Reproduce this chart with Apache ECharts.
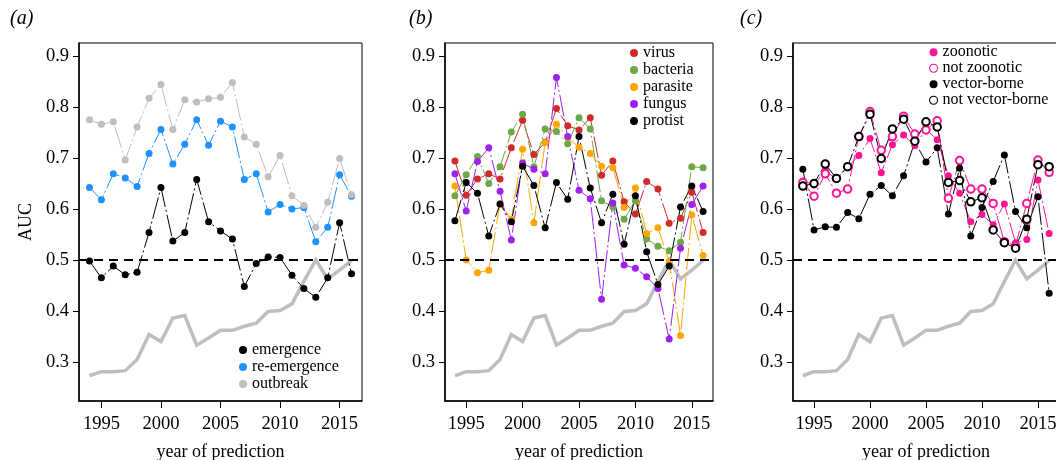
<!DOCTYPE html>
<html>
<head>
<meta charset="utf-8">
<script src="https://cdn.jsdelivr.net/npm/echarts@6/dist/echarts.min.js"></script>
<style>
html,body{margin:0;padding:0;background:#fff;}
#chart{width:1056px;height:460px;}
</style>
</head>
<body>
<div id="chart"></div>
<script>
// ---------- data ----------
const years = [1994,1995,1996,1997,1998,1999,2000,2001,2002,2003,2004,2005,2006,2007,2008,2009,2010,2011,2012,2013,2014,2015,2016];
const xTicks = [1995,2000,2005,2010,2015];
const yTicks = [0.3,0.4,0.5,0.6,0.7,0.8,0.9];

// grey thick reference line (same in each panel)
const greyRef = [0.273,0.281,0.281,0.283,0.305,0.354,0.340,0.386,0.391,0.333,0.347,0.362,0.362,0.370,0.376,0.399,0.401,0.414,0.458,0.500,0.463,0.480,0.499];

// panel (a)
const emergence   = [0.498,0.465,0.488,0.471,0.476,0.554,0.642,0.537,0.554,0.658,0.575,0.557,0.541,0.448,0.493,0.506,0.505,0.470,0.444,0.427,0.465,0.573,0.473];
const reEmergence = [0.642,0.618,0.669,0.661,0.644,0.709,0.756,0.688,0.727,0.775,0.725,0.772,0.761,0.658,0.669,0.594,0.609,0.600,0.603,0.536,0.564,0.667,0.625];
const outbreak    = [0.775,0.766,0.771,0.696,0.761,0.817,0.844,0.756,0.814,0.810,0.816,0.819,0.848,0.741,0.727,0.663,0.705,0.626,0.607,0.564,0.613,0.699,0.628];

// panel (b)
const virus    = [0.694,0.627,0.659,0.669,0.659,0.720,0.774,0.707,0.731,0.797,0.763,0.755,0.779,0.666,0.694,0.614,0.590,0.654,0.639,0.572,0.582,0.633,0.554];
const bacteria = [0.626,0.667,0.703,0.650,0.683,0.751,0.786,0.683,0.757,0.752,0.728,0.779,0.757,0.616,0.604,0.580,0.616,0.541,0.527,0.518,0.535,0.683,0.681];
const parasite = [0.645,0.500,0.475,0.480,0.610,0.580,0.717,0.573,0.730,0.766,0.740,0.721,0.709,0.684,0.681,0.603,0.641,0.552,0.563,0.497,0.352,0.588,0.509];
const fungus   = [0.669,0.596,0.693,0.720,0.635,0.539,0.690,0.678,0.669,0.858,0.742,0.637,0.620,0.423,0.612,0.490,0.484,0.467,0.444,0.345,0.523,0.609,0.645];
const protist  = [0.577,0.652,0.631,0.547,0.610,0.575,0.684,0.646,0.563,0.652,0.619,0.742,0.641,0.573,0.629,0.531,0.626,0.516,0.452,0.488,0.604,0.645,0.595];

// panel (c)
const zoonotic       = [0.655,0.647,0.676,0.658,0.682,0.705,0.738,0.671,0.726,0.745,0.724,0.756,0.736,0.665,0.631,0.575,0.589,0.569,0.610,0.534,0.540,0.657,0.552];
const notZoonotic    = [0.652,0.625,0.669,0.631,0.639,0.742,0.791,0.715,0.742,0.782,0.747,0.755,0.773,0.621,0.695,0.639,0.639,0.611,0.536,0.528,0.611,0.696,0.672];
const vectorBorne    = [0.678,0.559,0.565,0.564,0.593,0.581,0.629,0.646,0.626,0.665,0.732,0.692,0.720,0.590,0.680,0.547,0.603,0.654,0.706,0.595,0.563,0.624,0.435];
const notVectorBorne = [0.645,0.650,0.688,0.660,0.683,0.742,0.786,0.699,0.757,0.776,0.733,0.771,0.761,0.652,0.656,0.614,0.622,0.559,0.534,0.523,0.580,0.687,0.683];

const panelLabels = ['(a)','(b)','(c)'];
const yTitle = 'AUC';
const xTitle = 'year of prediction';

// ---------- styling ----------
const FONT = '"Liberation Serif","DejaVu Serif",serif';
const PINK = '#FF1493';
const panelsA = [
  {name:'emergence', data:emergence, color:'#000000', open:false},
  {name:'re-emergence', data:reEmergence, color:'#1E90FF', open:false},
  {name:'outbreak', data:outbreak, color:'#BEBEBE', open:false}
];
const panelsB = [
  {name:'virus', data:virus, color:'#D12A2A', open:false},
  {name:'bacteria', data:bacteria, color:'#6BA846', open:false},
  {name:'parasite', data:parasite, color:'#FFA500', open:false},
  {name:'fungus', data:fungus, color:'#A020F0', open:false},
  {name:'protist', data:protist, color:'#000000', open:false}
];
const panelsC = [
  {name:'zoonotic', data:zoonotic, color:PINK, open:false},
  {name:'not zoonotic', data:notZoonotic, color:PINK, open:true},
  {name:'vector-borne', data:vectorBorne, color:'#000000', open:false},
  {name:'not vector-borne', data:notVectorBorne, color:'#000000', open:true}
];
const groups = [panelsA, panelsB, panelsC];

const grids = [
  {left:79, top:43, width:283, height:358},
  {left:445, top:43, width:268, height:358},
  {left:793, top:43, width:266, height:358}
];
const legendPos = [
  {left:239, top:341.5, lh:17},
  {left:630, top:44.5, lh:17},
  {left:929, top:44.2, lh:15.7}
];

const xAxes = [], yAxes = [], series = [], legends = [], titles = [];
grids.forEach((g, i) => {
  g.show = true; g.borderColor = '#000'; g.borderWidth = 1; g.containLabel = false;
  g.outerBoundsMode = 'none';
  xAxes.push({
    type:'value', gridIndex:i, min:1993.12, max:2016.88,
    name: xTitle, nameLocation:'middle', nameGap:42,
    nameTextStyle:{fontFamily:FONT, fontSize:18, color:'#000'},
    axisLine:{show:true, onZero:false, lineStyle:{color:'#000', width:1.5}},
    axisTick:{show:true, length:7, inside:false, customValues:xTicks, lineStyle:{color:'#000', width:1}},
    axisLabel:{show:true, customValues:xTicks, margin:14, fontFamily:FONT, fontSize:18.5, color:'#000',
      formatter: v => String(Math.round(v))},
    splitLine:{show:false}
  });
  yAxes.push({
    type:'value', gridIndex:i, min:0.2235, max:0.9255,
    name: i === 0 ? yTitle : '', nameLocation:'middle', nameGap:44, nameRotate:90,
    nameTextStyle:{fontFamily:FONT, fontSize:18, color:'#000'},
    axisLine:{show:true, onZero:false, lineStyle:{color:'#000', width:1.5}},
    axisTick:{show:true, length:6, inside:false, customValues:yTicks, lineStyle:{color:'#000', width:1}},
    axisLabel:{show:true, customValues:yTicks, margin:10, fontFamily:FONT, fontSize:18.5, color:'#000',
      formatter: v => v.toFixed(1)},
    splitLine:{show:false}
  });
  // grey reference line + 0.5 dashed line
  series.push({
    type:'line', name:'ref'+i, xAxisIndex:i, yAxisIndex:i, z:1,
    data: years.map((y, k) => [y, greyRef[k]]),
    showSymbol:false, symbol:'none',
    lineStyle:{color:'#BEBEBE', width:3.5, join:'miter'},
    silent:true,
    markLine:{silent:true, symbol:'none', label:{show:false},
      lineStyle:{color:'#000', width:2, type:[9,6]}, data:[{yAxis:0.5}]}
  });
  const legendData = [];
  groups[i].forEach(s => {
    series.push({
      type:'line', name:s.name, xAxisIndex:i, yAxisIndex:i, z:3,
      data: years.map((y, k) => [y, s.data[k]]),
      symbol: s.open ? 'emptyCircle' : 'circle',
      symbolSize: s.open ? 7.5 : 7,
      showAllSymbol:true,
      itemStyle: s.open ? {color:s.color, borderColor:s.color, borderWidth:1} : {color:s.color},
      lineStyle:{color:s.color, width:1, type:[22,3,2,3]}
    });
    legendData.push(s.open ?
      {name:s.name, icon:'circle', itemStyle:{color:'#ffffff', borderColor:s.color, borderWidth:1.1}} :
      {name:s.name, icon:'circle'});
  });
  const lp = legendPos[i];
  legends.push({
    orient:'vertical', left:lp.left, top:lp.top, padding:0, itemGap:0,
    itemWidth:8, itemHeight:8, selectedMode:false,
    textStyle:{fontFamily:FONT, fontSize:16, color:'#000', lineHeight:lp.lh, padding:[0,0,0,0]},
    data: legendData
  });
});
titles.push(
  {text:panelLabels[0], left:5, top:4, textStyle:{fontFamily:FONT, fontStyle:'italic', fontWeight:'normal', fontSize:20, color:'#000'}},
  {text:panelLabels[1], left:404, top:4, textStyle:{fontFamily:FONT, fontStyle:'italic', fontWeight:'normal', fontSize:20, color:'#000'}},
  {text:panelLabels[2], left:735, top:4, textStyle:{fontFamily:FONT, fontStyle:'italic', fontWeight:'normal', fontSize:20, color:'#000'}}
);

const chart = echarts.init(document.getElementById('chart'), null, {renderer:'canvas'});
chart.setOption({
  animation:false,
  backgroundColor:'#fff',
  title: titles,
  grid: grids,
  xAxis: xAxes,
  yAxis: yAxes,
  legend: legends,
  series: series
});
</script>
</body>
</html>
